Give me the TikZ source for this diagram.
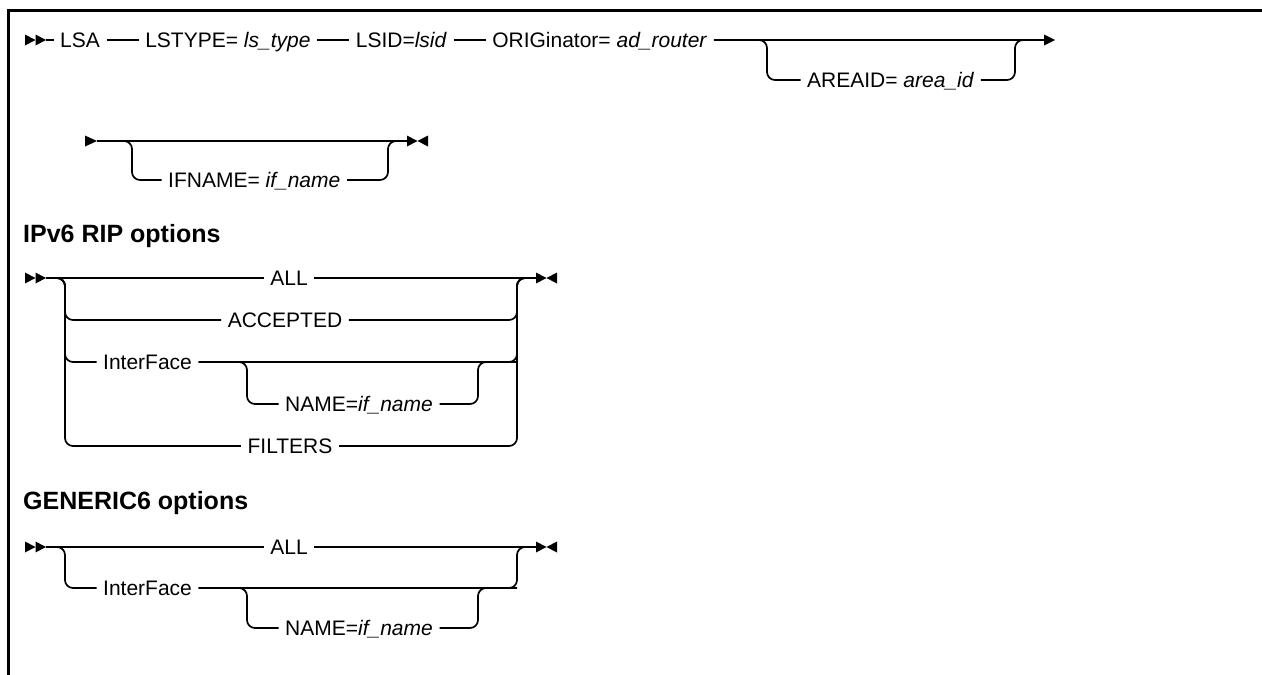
\documentclass[tikz,border=0pt]{standalone}
\usepackage{fontspec}
\setmainfont{Liberation Sans}
\usetikzlibrary{positioning}
\tikzset{
  rail/.style={line width=1.7pt},
  rr/.style={rail, rounded corners=8pt},
  lbl/.style={inner xsep=6.5pt, inner ysep=0pt, text height=15pt, text depth=0pt, font=\fontsize{21}{25}\selectfont},
  lw/.style={lbl, anchor=west},
  hd/.style={inner sep=0pt, anchor=base west, font=\fontsize{25}{30}\selectfont\bfseries},
  frameline/.style={line width=3pt},
  pics/twostart/.style={code={\fill (-21,-5.5) -- (-10.5,0) -- (-21,5.5) -- cycle; \fill (-10.5,-5.5) -- (0,0) -- (-10.5,5.5) -- cycle;}},
  pics/onestart/.style={code={\fill (-12,-5.5) -- (0,0) -- (-12,5.5) -- cycle;}},
  pics/goon/.style={code={\fill (0,-5.5) -- (11,0) -- (0,5.5) -- cycle;}},
  pics/stopmark/.style={code={\fill (0,-5.5) -- (10.5,0) -- (0,5.5) -- cycle; \fill (21,-5.5) -- (10.5,0) -- (21,5.5) -- cycle;}},
}
\begin{document}
\begin{tikzpicture}[x=1pt,y=-1pt]
\useasboundingbox (0,0) rectangle (1262,675);
\draw[frameline] (8,675) -- (8,10) -- (1262,10);

% Row 1
\coordinate (r1s) at (46,40);
\pic at (r1s) {twostart};
\node[lw] (lsa) at (53.5,40) {LSA};
\node[lw, right=32pt of lsa] (lstype) {LSTYPE= \textit{ls\_type}};
\node[lw, right=32pt of lstype] (lsid) {LSID=\textit{lsid}};
\node[lw, right=32pt of lsid] (orig) {ORIGinator= \textit{ad\_router}};
\node[lw] (area) at (800.5,80) {AREAID= \textit{area\_id}};
\coordinate (j1a) at (767,40);
\coordinate (j1b) at (1015,40);
\coordinate (r1e) at (1044,40);
\draw[rail] (r1s) -- (lsa.west);
\draw[rail] (lsa.east) -- (lstype.west);
\draw[rail] (lstype.east) -- (lsid.west);
\draw[rail] (lsid.east) -- (orig.west);
\draw[rail] (orig.east) -- (r1e);
\draw[rr] (orig.east) -| (area.west -| j1a) -- (area.west);
\draw[rr] (area.east) -| (j1b) -- (r1e);
\pic at (r1e) {goon};

% Row 2
\coordinate (r2s) at (97,141);
\pic at (r2s) {onestart};
\node[lw] (ifn) at (161.5,180) {IFNAME= \textit{if\_name}};
\coordinate (j2a) at (132,141);
\coordinate (j2b) at (388,141);
\coordinate (r2e) at (407,141);
\draw[rail] (r2s) -- (r2e);
\draw[rr] (r2s) -| (ifn.west -| j2a) -- (ifn.west);
\draw[rr] (ifn.east) -| (j2b) -- (r2e);
\pic at (r2e) {stopmark};

% Heading 1
\node[hd] (h1) at (23,242) {IPv6 RIP options};

% Row 3
\coordinate (r3s) at (46,278);
\pic at (r3s) {twostart};
\coordinate (j3L) at (65,278);
\coordinate (j3R) at (517,278);
\coordinate (r3e) at (536,278);
\node[lbl] (all3) at (289,278) {ALL};
\node[lbl] (acc3) at (285,320) {ACCEPTED};
\node[lw] (if3) at (96.5,362) {InterFace};
\node[lw] (nm3) at (278.5,404) {NAME=\textit{if\_name}};
\node[lbl] (fil3) at (290,446) {FILTERS};
\coordinate (j3a) at (247,362);
\coordinate (j3b) at (478,362);
\draw[rail] (r3s) -- (all3.west);
\draw[rail] (all3.east) -- (r3e);
\foreach \n in {acc3,if3,fil3} {
  \draw[rr] (r3s) -| (\n.west -| j3L) -- (\n.west);
  \draw[rr] (\n.east) -| (j3R) -- (r3e);
}
\draw[rr] (if3.east) -| (nm3.west -| j3a) -- (nm3.west);
\draw[rr] (nm3.east) -| (j3b) -- (if3.east -| j3R);
\pic at (r3e) {stopmark};

% Heading 2
\node[hd] (h2) at (23,509) {GENERIC6 options};

% Row 4
\coordinate (r4s) at (46,547);
\pic at (r4s) {twostart};
\coordinate (j4L) at (65,547);
\coordinate (j4R) at (517,547);
\coordinate (r4e) at (536,547);
\node[lbl] (all4) at (289,547) {ALL};
\node[lw] (if4) at (96.5,588) {InterFace};
\node[lw] (nm4) at (278.5,628) {NAME=\textit{if\_name}};
\coordinate (j4a) at (247,588);
\coordinate (j4b) at (478,588);
\draw[rail] (r4s) -- (all4.west);
\draw[rail] (all4.east) -- (r4e);
\draw[rr] (r4s) -| (if4.west -| j4L) -- (if4.west);
\draw[rr] (if4.east) -| (j4R) -- (r4e);
\draw[rr] (if4.east) -| (nm4.west -| j4a) -- (nm4.west);
\draw[rr] (nm4.east) -| (j4b) -- (if4.east -| j4R);
\pic at (r4e) {stopmark};
\end{tikzpicture}
\end{document}
